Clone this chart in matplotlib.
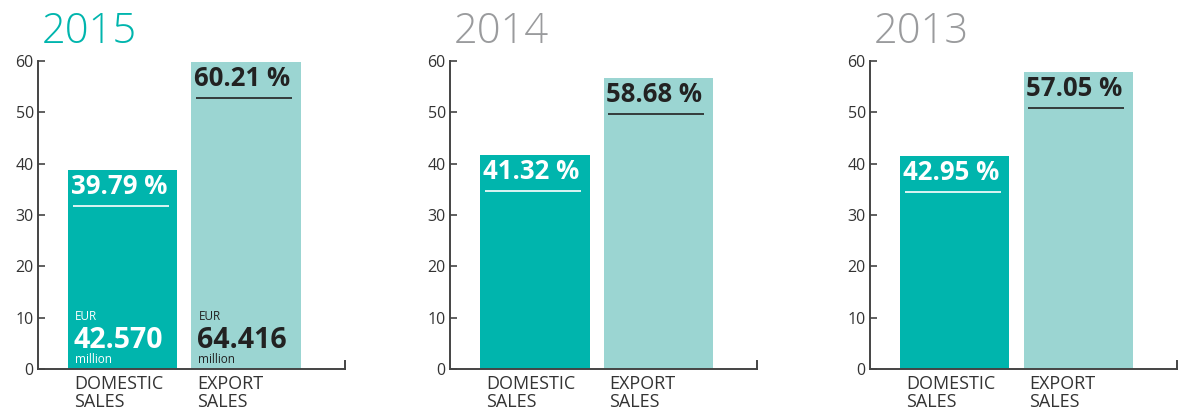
import matplotlib
matplotlib.use("Agg")
import matplotlib.pyplot as plt

# --- data ---
years = ["2015", "2014", "2013"]
categories = ["DOMESTIC\nSALES", "EXPORT\nSALES"]
share_labels = [["39.79 %", "60.21 %"],
                ["41.32 %", "58.68 %"],
                ["42.95 %", "57.05 %"]]
# bar heights as drawn in the reference (not exactly the labelled shares)
bar_heights = [[38.8, 59.8],
               [41.6, 56.6],
               [41.4, 57.8]]
eur_values = ["42.570", "64.416"]   # only shown for 2015
y_ticks = [0, 10, 20, 30, 40, 50, 60]

TEAL = "#00B5AD"
LIGHT = "#9BD5D2"
GREY_TITLE = "#9A9B9D"
AXIS = "#444444"
DARK = "#222222"

plt.rcParams["font.family"] = ["Open Sans", "DejaVu Sans"]

fig = plt.figure(figsize=(11.79, 4.13), dpi=100)
lefts = [0.0322, 0.3817, 0.7379]
bottom, height = 0.1065, 0.7458
width = 0.2600

for i, year in enumerate(years):
    ax = fig.add_axes([lefts[i], bottom, width, height])
    xs = [0, 1]
    w = 0.886
    colors = [TEAL, LIGHT]
    ax.bar(xs, bar_heights[i], width=w, color=colors, zorder=1)
    ax.set_xlim(-0.69, 1.80)
    ax.set_ylim(0, 60)

    for s in ("top", "right"):
        ax.spines[s].set_visible(False)
    for s in ("left", "bottom"):
        ax.spines[s].set_color(AXIS)
        ax.spines[s].set_linewidth(1.4)
    ax.set_xticks([])
    ax.set_yticks(y_ticks)
    ax.tick_params(axis="y", direction="in", length=5, width=1.2, color=AXIS,
                   labelsize=11.5, labelcolor="#333333", pad=3)
    # little end tick on the x axis
    ax.axvline(1.80, ymin=0, ymax=0.025, color=AXIS, lw=1.4, clip_on=False)

    # year title
    ax.annotate(year, (0, 1), xycoords="axes fraction", xytext=(3, 13),
                textcoords="offset points", ha="left", va="baseline",
                fontsize=30, fontweight="light",
                color=TEAL if i == 0 else GREY_TITLE, annotation_clip=False)

    for j, x in enumerate(xs):
        h = bar_heights[i][j]
        tc = "white" if j == 0 else DARK
        left_edge = x - w / 2
        # share label + underline
        ax.annotate(share_labels[i][j], (left_edge, h), xytext=(2, -2),
                    textcoords="offset points", ha="left", va="top",
                    fontsize=18.5, fontweight="bold", color=tc)
        ax.plot([left_edge + 0.035, left_edge + w - 0.07], [h - 7.0, h - 7.0],
                color=tc, lw=1.2, solid_capstyle="butt", zorder=2)
        # category label under the axis
        ax.annotate(categories[j], (left_edge, 0), xytext=(4, -4),
                    textcoords="offset points", ha="left", va="top",
                    fontsize=13, color="#333333", linespacing=1.0,
                    annotation_clip=False)
        if i == 0:
            ax.annotate("EUR", (left_edge, 0), xytext=(5, 35),
                        textcoords="offset points", ha="left", va="baseline",
                        fontsize=8.5, color=tc)
            ax.annotate(eur_values[j], (left_edge, 0), xytext=(4, 15),
                        textcoords="offset points", ha="left", va="baseline",
                        fontsize=20.5, fontweight="bold", color=tc)
            ax.annotate("million", (left_edge, 0), xytext=(5, 4),
                        textcoords="offset points", ha="left", va="baseline",
                        fontsize=8.5, color=tc)

fig.savefig("out.png", dpi=100)
